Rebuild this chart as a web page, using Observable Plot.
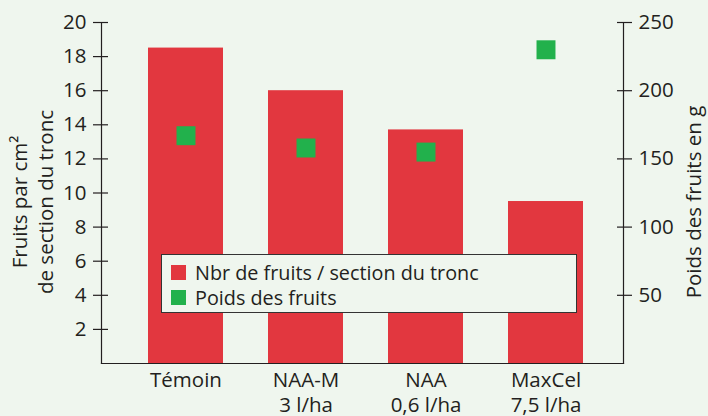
<!DOCTYPE html>
<html>
<head>
<meta charset="utf-8">
<script src="https://cdn.jsdelivr.net/npm/d3@7"></script>
<script src="https://cdn.jsdelivr.net/npm/@observablehq/plot@0.6"></script>
<style>
  html, body { margin: 0; padding: 0; background: #eff6ee; }
  #wrap { position: relative; width: 708px; height: 416px; font-family: "Open Sans", sans-serif; color: #231f20; }
  #legend { position: absolute; left: 161px; top: 254px; width: 414px; height: 57px; border: 1.2px solid #333; background: #eff6ee; }
  .item { position: absolute; left: 9px; display: flex; align-items: center; font-size: 19.8px; line-height: 19px; white-space: nowrap; }
  .sw { width: 15px; height: 15px; margin-right: 9px; }
</style>
</head>
<body>
<div id="wrap"></div>
<script>
const categories = ["Témoin", "NAA-M\n3 l/ha", "NAA\n0,6 l/ha", "MaxCel\n7,5 l/ha"];
const fruits = [18.5, 16.0, 13.7, 9.5];
const poids = [167, 158, 155, 230];
const leftTicks = [2, 4, 6, 8, 10, 12, 14, 16, 18, 20];
const rightTicks = [50, 100, 150, 200, 250];
const seriesNames = ["Nbr de fruits / section du tronc", "Poids des fruits"];
const colors = ["#e2373f", "#22b14c"];
const ratio = 250 / 20;

const data = categories.map((c, i) => ({cat: c, fruits: fruits[i], poids: poids[i]}));

const ink = "#231f20";
const fs = 20.5;
const chart = Plot.plot({
  width: 708,
  height: 416,
  marginLeft: 101,
  marginRight: 85,
  marginTop: 22,
  marginBottom: 53,
  style: {fontFamily: "'Open Sans', sans-serif", fontSize: fs + "px", background: "#eff6ee", color: ink},
  x: {domain: categories, paddingInner: 0.376, paddingOuter: 0.347, align: 0.536, label: null},
  y: {domain: [0, 20], label: null},
  marks: [
    Plot.barY(data, {x: "cat", y: "fruits", fill: colors[0]}),
    Plot.dot(data, {x: "cat", y: d => d.poids / ratio, symbol: "square", r: 10.7, fill: colors[1], stroke: null}),
    Plot.frame({anchor: "left", stroke: ink, strokeWidth: 1.2}),
    Plot.frame({anchor: "right", stroke: ink, strokeWidth: 1.2}),
    Plot.frame({anchor: "bottom", stroke: ink, strokeWidth: 1.2}),
    Plot.axisY(leftTicks, {anchor: "left", tickSize: 15, dx: 7, tickPadding: 7, label: null, stroke: ink, fill: ink, strokeWidth: 1.2, strokeOpacity: 1}),
    Plot.axisY(rightTicks.map(v => v / ratio), {anchor: "right", tickSize: 15, dx: -7, tickPadding: 7, label: null, tickFormat: d => String(Math.round(d * ratio)), stroke: ink, fill: ink, strokeWidth: 1.2, strokeOpacity: 1}),
    Plot.axisX({tickSize: 0, tickPadding: 5, label: null, lineHeight: 1.24, fill: ink}),
    Plot.text(["Fruits par cm²\nde section du tronc"], {frameAnchor: "left", textAnchor: "middle", lineAnchor: "middle", rotate: -90, dx: -70, dy: 9, lineHeight: 1.27, fill: ink, fontSize: fs}),
    Plot.text(["Poids des fruits en g"], {frameAnchor: "right", textAnchor: "middle", lineAnchor: "middle", rotate: -90, dx: 71, dy: 9, fill: ink, fontSize: fs})
  ]
});
const wrap = document.getElementById("wrap");
wrap.appendChild(chart);

const legend = document.createElement("div");
legend.id = "legend";
seriesNames.forEach((name, i) => {
  const item = document.createElement("div");
  item.className = "item";
  item.style.top = (i === 0 ? 8 : 33) + "px";
  const sw = document.createElement("div");
  sw.className = "sw";
  sw.style.background = colors[i];
  item.appendChild(sw);
  item.appendChild(document.createTextNode(name));
  legend.appendChild(item);
});
wrap.appendChild(legend);
</script>
</body>
</html>
